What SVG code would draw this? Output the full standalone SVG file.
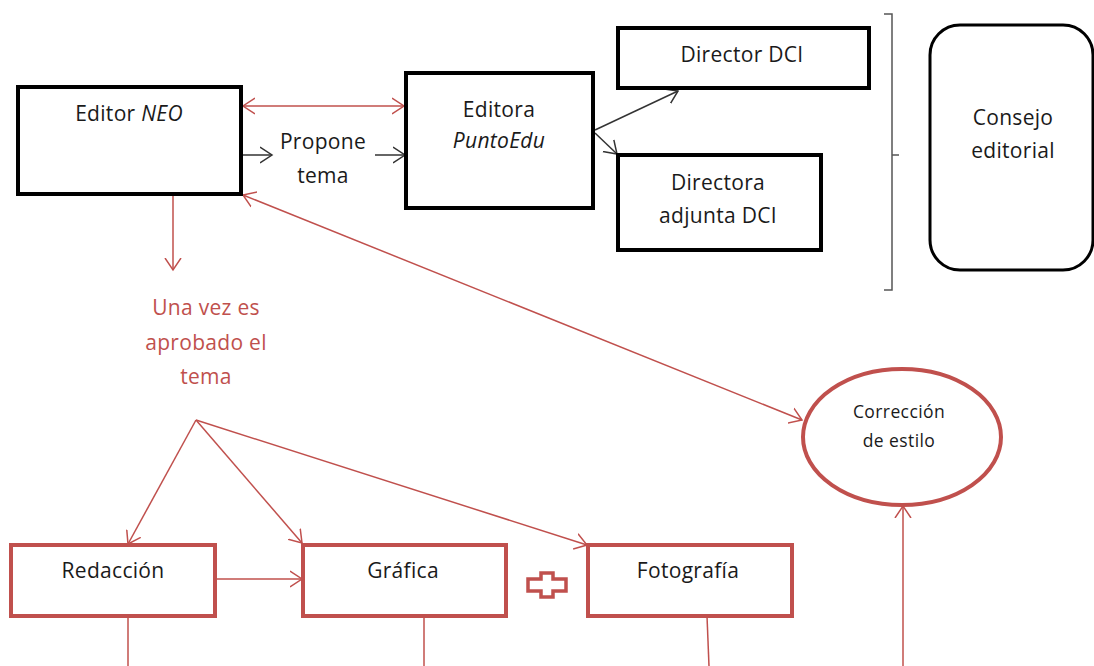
<svg xmlns="http://www.w3.org/2000/svg" width="1094" height="666" viewBox="0 0 1094 666">
<defs>
<style>
.t{font-family:"Open Sans","Noto Sans","Liberation Sans",sans-serif;font-size:21px;letter-spacing:0.3px;fill:#1a1a1a;text-anchor:middle}
.s{font-size:17.5px;letter-spacing:0.4px}
.r{fill:#c0504d}
.bk{fill:#fff;stroke:#000;stroke-width:4}
.rd{fill:#fff;stroke:#c0504d;stroke-width:4}
.cr{fill:none;stroke:#c0504d;stroke-width:1.5}
.cb{fill:none;stroke:#333;stroke-width:1.5}
</style>
<marker id="ar" markerUnits="userSpaceOnUse" markerWidth="14" markerHeight="18" refX="12" refY="9" orient="auto-start-reverse" viewBox="0 0 14 18"><path d="M0,1 L12,9 L0,17" fill="none" stroke="#c0504d" stroke-width="1.5"/></marker>
<marker id="ab" markerUnits="userSpaceOnUse" markerWidth="14" markerHeight="18" refX="12" refY="9" orient="auto" viewBox="0 0 14 18"><path d="M0,1 L12,9 L0,17" fill="none" stroke="#333" stroke-width="1.5"/></marker>
</defs>
<rect width="1094" height="666" fill="#fff"/>
<g id="connectors">
<line class="cr" x1="243" y1="106" x2="404" y2="106" marker-start="url(#ar)" marker-end="url(#ar)"/>
<line class="cb" x1="241" y1="155" x2="272" y2="155" marker-end="url(#ab)"/>
<line class="cb" x1="375" y1="155" x2="405" y2="155" marker-end="url(#ab)"/>
<line class="cb" x1="595" y1="130" x2="678" y2="91" marker-end="url(#ab)"/>
<line class="cb" x1="595" y1="133" x2="617" y2="154" marker-end="url(#ab)"/>
<line class="cr" x1="243" y1="195" x2="802" y2="420" marker-start="url(#ar)" marker-end="url(#ar)"/>
<line class="cr" x1="173" y1="194" x2="173" y2="270" marker-end="url(#ar)"/>
<line class="cr" x1="196" y1="420" x2="128" y2="544" marker-end="url(#ar)"/>
<line class="cr" x1="196" y1="420" x2="302" y2="543" marker-end="url(#ar)"/>
<line class="cr" x1="196" y1="420" x2="587" y2="545" marker-end="url(#ar)"/>
<line class="cr" x1="215" y1="579" x2="302" y2="579" marker-end="url(#ar)"/>
<line class="cr" x1="128" y1="616" x2="128" y2="666"/>
<line class="cr" x1="424" y1="616" x2="424" y2="666"/>
<line class="cr" x1="707" y1="616" x2="709" y2="666"/>
<line class="cr" x1="903" y1="666" x2="903" y2="506" marker-end="url(#ar)"/>
<path d="M884,14 H892 V290 H884 M892,155 H899" fill="none" stroke="#555" stroke-width="1.5"/>
</g>
<g id="editor-neo"><rect class="bk" x="18" y="87" width="223" height="107"/><text class="t" x="129" y="121">Editor <tspan font-style="italic">NEO</tspan></text></g>
<g id="propone"><text class="t" x="323" y="149">Propone</text><text class="t" x="323" y="183">tema</text></g>
<g id="editora"><rect class="bk" x="406" y="73" width="187" height="135"/><text class="t" x="499" y="117">Editora</text><text class="t" x="499" y="148" font-style="italic">PuntoEdu</text></g>
<g id="director"><rect class="bk" x="618" y="28" width="251" height="60"/><text class="t" x="742" y="62">Director DCI</text></g>
<g id="directora"><rect class="bk" x="618" y="155" width="203" height="95"/><text class="t" x="718" y="190">Directora</text><text class="t" x="718" y="223">adjunta DCI</text></g>
<g id="consejo"><rect x="930" y="25" width="163" height="245" rx="30" ry="30" fill="#fff" stroke="#000" stroke-width="3"/><text class="t" x="1013" y="125">Consejo</text><text class="t" x="1013" y="158">editorial</text></g>
<g id="aprobado"><text class="t r" x="206" y="315">Una vez es</text><text class="t r" x="206" y="350">aprobado el</text><text class="t r" x="206" y="384">tema</text></g>
<g id="correccion"><ellipse cx="902" cy="437" rx="99" ry="68" fill="#fff" stroke="#c0504d" stroke-width="4"/><text class="t s" x="899" y="418">Corrección</text><text class="t s" x="899" y="447">de estilo</text></g>
<g id="redaccion"><rect class="rd" x="11" y="545" width="204" height="71"/><text class="t" x="113" y="578">Redacción</text></g>
<g id="grafica"><rect class="rd" x="303" y="545" width="203" height="71"/><text class="t" x="403" y="578">Gráfica</text></g>
<g id="plus"><polygon points="541,573 553,573 553,579 566,579 566,591 553,591 553,597 541,597 541,591 528,591 528,579 541,579" fill="#fff" stroke="#c0504d" stroke-width="3.5"/></g>
<g id="fotografia"><rect class="rd" x="588" y="545" width="204" height="71"/><text class="t" x="688" y="578">Fotografía</text></g>
</svg>
